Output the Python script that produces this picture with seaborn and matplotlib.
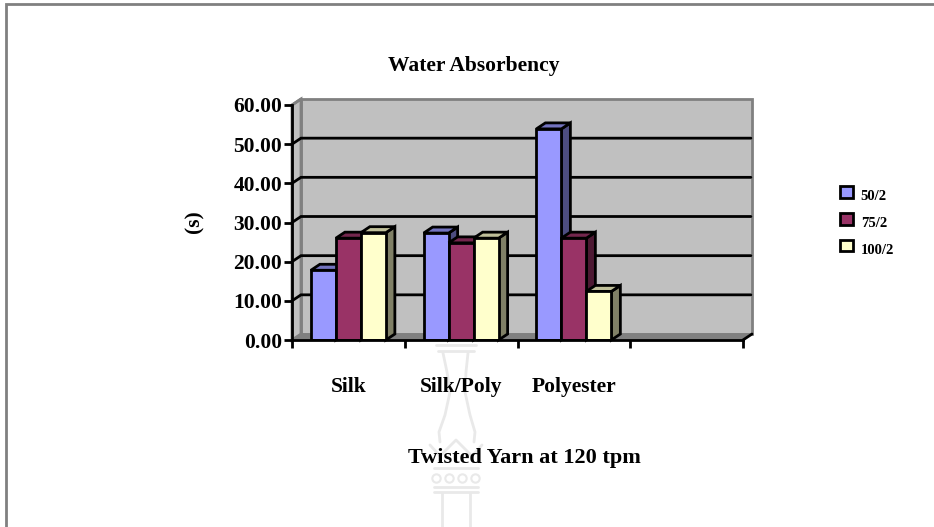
import pandas as pd
import matplotlib
matplotlib.use("Agg")
import matplotlib.pyplot as plt
import seaborn as sns
from matplotlib.patches import Polygon
from matplotlib.lines import Line2D

categories = ["Silk", "Silk/Poly", "Polyester", " "]
series_names = ["50/2", "75/2", "100/2"]
values_50 = [17.8, 27.3, 53.9, 0]
values_75 = [26.0, 24.8, 26.0, 0]
values_100 = [27.4, 26.0, 12.4, 0]
y_ticks = [0, 10, 20, 30, 40, 50, 60]

front_colors = ["#9999FF", "#993366", "#FFFFCC"]
side_colors = ["#4D4D80", "#4D1933", "#808066"]
top_colors = ["#7373BF", "#73264D", "#BFBF99"]

W, H = 934, 527

df = pd.DataFrame({
    "category": categories * 3,
    "series": [s for s in series_names for _ in categories],
    "value": values_50 + values_75 + values_100,
})

sns.set_theme(style="white")
plt.rcParams["font.family"] = ["Liberation Serif", "DejaVu Serif"]
plt.rcParams["font.weight"] = "bold"

fig = plt.figure(figsize=(W / 100, H / 100), dpi=100, facecolor="white")
ax = fig.add_axes([292 / W, 1 - 340 / H, (743 - 292) / W, (340 - 105) / H])
ax.set_facecolor("none")

sns.barplot(
    data=df, x="category", y="value", hue="series", hue_order=series_names,
    palette=front_colors, width=0.665, gap=0, saturation=1,
    edgecolor="black", linewidth=2, ax=ax,
)
ax.set_xlim(-0.5, 3.5)
ax.set_ylim(0, 60)

# depth of the 3d box, given in pixels and turned into data units
dx = 9 / ((743 - 292) / 4)
dy = 6 / ((340 - 105) / 60)


def fig_px(x, y):
    return x / W, 1 - y / H


# walls and floor
left_x, right_x = -0.5, 3.5
ax.add_patch(Polygon([(left_x + dx, dy), (right_x + dx, dy), (right_x + dx, 60 + dy), (left_x + dx, 60 + dy)],
                     closed=True, facecolor="#C0C0C0", edgecolor="#808080", linewidth=2, zorder=0, clip_on=False))
ax.add_patch(Polygon([(left_x, 0), (left_x + dx, dy), (left_x + dx, 60 + dy), (left_x, 60)],
                     closed=True, facecolor="#C0C0C0", edgecolor="#808080", linewidth=2, zorder=0.1, clip_on=False))
ax.add_patch(Polygon([(left_x, 0), (left_x + dx, dy), (right_x + dx, dy), (right_x, 0)],
                     closed=True, facecolor="#808080", edgecolor="#808080", linewidth=1, zorder=0.2, clip_on=False))

# gridlines run along the side wall then the back wall
for t in y_ticks[1:-1]:
    ax.plot([left_x, left_x + dx, right_x + dx - 0.01], [t, t + dy, t + dy], color="black", lw=2,
            solid_joinstyle="miter", zorder=0.5, clip_on=False)
ax.plot([left_x, left_x + dx], [60, 60 + dy], color="#808080", lw=2, zorder=0.5, clip_on=False)
ax.plot([right_x, right_x + dx], [0, dy], color="black", lw=2, zorder=5, clip_on=False)

# depth faces of each bar, taken from the bars seaborn drew
z = 2
for cont, side, top in zip(ax.containers, side_colors, top_colors):
    for bar in cont:
        x0, w, h = bar.get_x(), bar.get_width(), bar.get_height()
        if h <= 0:
            bar.set_visible(False)
            continue
        ax.add_patch(Polygon([(x0 + w, 0), (x0 + w + dx, dy), (x0 + w + dx, h + dy), (x0 + w, h)], closed=True,
                             facecolor=side, edgecolor="black", linewidth=2, joinstyle="miter", zorder=z, clip_on=False))
        ax.add_patch(Polygon([(x0, h), (x0 + dx, h + dy), (x0 + w + dx, h + dy), (x0 + w, h)], closed=True,
                             facecolor=top, edgecolor="black", linewidth=2, joinstyle="miter", zorder=z, clip_on=False))
        bar.set_zorder(z + 0.1)
        z += 0.2

# axes and ticks
sns.despine(ax=ax, top=True, right=True)
for name in ["left", "bottom"]:
    ax.spines[name].set_linewidth(2)
    ax.spines[name].set_color("black")
    ax.spines[name].set_zorder(4)
ax.set_yticks(y_ticks)
ax.set_yticklabels([f"{t:.2f}" for t in y_ticks], fontsize=15.5, fontweight="bold", color="black")
ax.set_xticks([-0.5, 0.5, 1.5, 2.5, 3.5], minor=False)
ax.set_xticklabels([""] * 5)
ax.tick_params(axis="y", length=6, width=2, color="black", left=True, pad=1)
ax.tick_params(axis="x", length=6, width=2, color="black", bottom=True)

for pos, lab in zip(range(3), categories[:3]):
    ax.annotate(lab, xy=(pos, 0), xycoords=ax.get_xaxis_transform(), xytext=(0, -46 * 0.72 - 1),
                textcoords="offset points", ha="center", va="center", fontsize=15.5, fontweight="bold", color="black")

ax.set_xlabel("")
ax.set_ylabel("")
fig.text(*fig_px(474, 65.5), "Water Absorbency", ha="center", va="center", fontsize=15.5, fontweight="bold", color="black")
fig.text(*fig_px(524, 458), "Twisted Yarn at 120 tpm", ha="center", va="center", fontsize=16, fontweight="bold", color="black")
fig.text(*fig_px(194, 222), "(s)", rotation=90, ha="center", va="center", fontsize=15.5, fontweight="bold", color="black")

sns.move_legend(
    ax, "center left", bbox_to_anchor=fig_px(833, 220), bbox_transform=fig.transFigure, frameon=False, title=None,
    prop={"family": "Liberation Serif", "weight": "bold", "size": 10.5}, handlelength=0.85, handleheight=0.85,
    labelspacing=0.88, handletextpad=0.55, borderpad=0, labelcolor="black",
)
for t in ax.get_legend().get_texts():
    t.set_position((0, -3))

# page frame and faint watermark behind the chart
frame = "#808080"
fig.add_artist(Line2D([6 / W, 6 / W, 1], [0, 1 - 4 / H, 1 - 4 / H], color=frame, lw=2, solid_joinstyle="miter", zorder=-5))
wm = "#E9E9E9"
for xs, ys in [
    ([436, 476], [345, 345]), ([438, 474], [351, 351]),
    ([443, 447, 450, 445, 439, 440], [353, 372, 392, 415, 432, 442]),
    ([468, 466, 465, 470, 475, 474], [353, 372, 392, 415, 432, 442]),
    ([430, 440, 456, 472, 482], [445, 456, 440, 456, 445]),
    ([434, 478], [468, 468]), ([434, 478], [487, 487]), ([434, 478], [492, 492]),
    ([442, 442], [493, 527]), ([470, 470], [493, 527]),
]:
    fig.add_artist(Line2D([x / W for x in xs], [1 - y / H for y in ys], color=wm, lw=2, zorder=-5))
fig.add_artist(Line2D([x / W for x in [436, 449, 462, 475]], [1 - 478 / H] * 4, color=wm, lw=0, marker="o", ms=6,
                      markerfacecolor="white", markeredgecolor=wm, markeredgewidth=1.5, zorder=-5))

fig.savefig("out.png", dpi=100, facecolor="white")
